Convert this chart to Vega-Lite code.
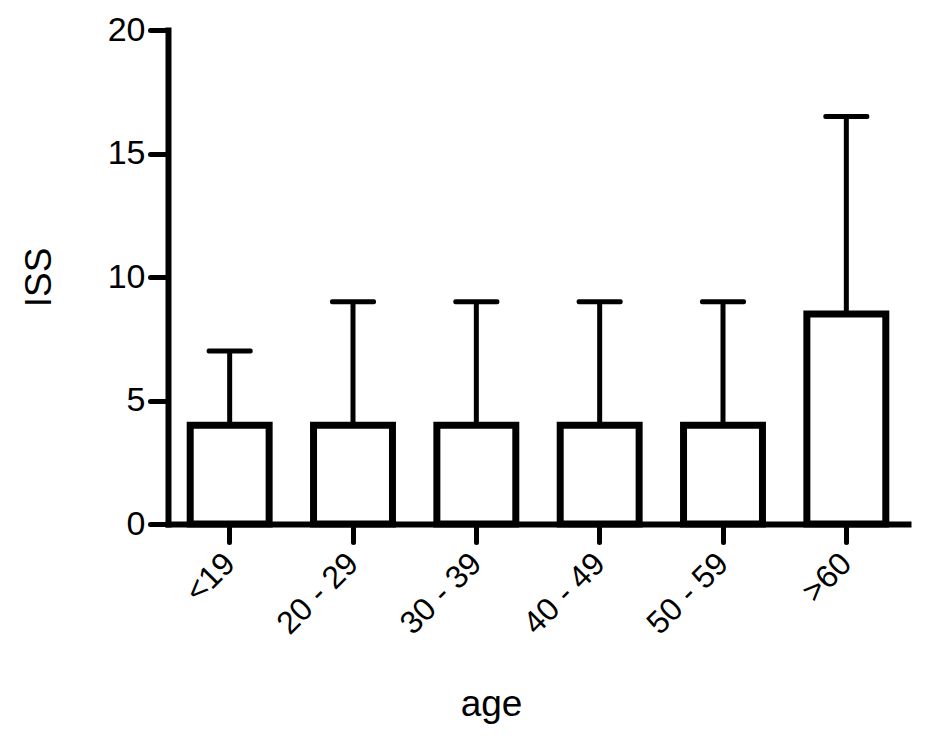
{
  "$schema": "https://vega.github.io/schema/vega-lite/v6.json",
  "width": 740,
  "height": 494,
  "autosize": {"type": "none"},
  "padding": {"left": 168, "top": 30, "right": 22, "bottom": 216},
  "background": "white",
  "config": {
    "view": {"stroke": null},
    "font": "Liberation Sans",
    "axis": {
      "domainColor": "black",
      "domainWidth": 6,
      "tickColor": "black",
      "tickWidth": 5,
      "tickSize": 18,
      "tickCap": "round",
      "domainCap": "square",
      "labelColor": "black",
      "titleColor": "black",
      "labelFont": "Liberation Sans",
      "titleFont": "Liberation Sans",
      "titleFontWeight": "normal",
      "grid": false
    }
  },
  "data": {
    "values": [
      {"age": "<19", "mean": 4, "upper": 7},
      {"age": "20 - 29", "mean": 4, "upper": 9},
      {"age": "30 - 39", "mean": 4, "upper": 9},
      {"age": "40 - 49", "mean": 4, "upper": 9},
      {"age": "50 - 59", "mean": 4, "upper": 9},
      {"age": ">60", "mean": 8.5, "upper": 16.5}
    ]
  },
  "encoding": {
    "x": {
      "field": "age",
      "type": "nominal",
      "sort": null,
      "scale": {"paddingInner": 0.36, "paddingOuter": 0.18},
      "axis": {
        "title": "age",
        "labelFontSize": 32,
        "titleFontSize": 37,
        "labelAngle": -45,
        "labelAlign": "right",
        "labelBaseline": "middle",
        "labelPadding": 16,
        "titleX": 323,
        "titleY": 191,
        "titleBaseline": "alphabetic",
        "titleAlign": "center"
      }
    }
  },
  "layer": [
    {
      "mark": {"type": "rule", "color": "black", "strokeWidth": 5, "strokeCap": "butt"},
      "encoding": {
        "y": {
          "field": "mean",
          "type": "quantitative",
          "scale": {"domain": [0, 20], "nice": false},
          "axis": {
            "title": "ISS",
            "labelFontSize": 34,
            "titleFontSize": 37,
            "values": [0, 5, 10, 15, 20],
            "labelPadding": 5,
            "titleX": -118,
            "titleY": 247,
            "titleAngle": -90,
            "titleBaseline": "alphabetic",
            "titleAlign": "center"
          }
        },
        "y2": {"field": "upper"}
      }
    },
    {
      "mark": {"type": "tick", "color": "black", "size": 46, "thickness": 5, "orient": "horizontal", "opacity": 1, "cornerRadius": 2},
      "encoding": {
        "y": {"field": "upper", "type": "quantitative"}
      }
    },
    {
      "mark": {"type": "bar", "fill": "white", "stroke": "black", "strokeWidth": 7, "strokeJoin": "miter"},
      "encoding": {
        "y": {"field": "mean", "type": "quantitative"}
      }
    }
  ]
}
